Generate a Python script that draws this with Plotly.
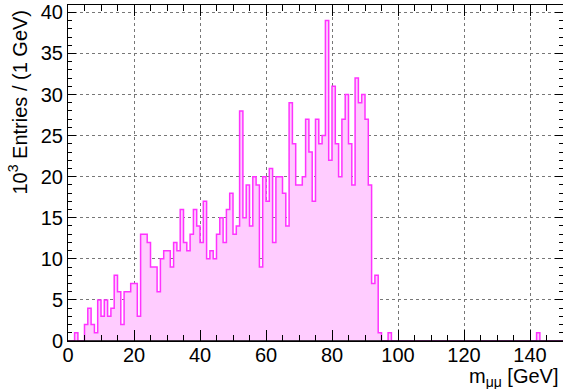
import plotly.graph_objects as go

# Bin low edges (GeV), 1 GeV bins from 0 to 150
bin_low_edges = list(range(0, 150))
hist_upper_edge = 150

# Entries per bin, in units of 10^3
counts = [
    0, 0, 1, 0, 0, 2, 4, 2, 1, 5,        # 0-9
    3, 5, 3, 4, 8, 6, 2, 6, 6, 7,        # 10-19
    7, 3, 13, 13, 12, 9, 9, 6, 10, 11,   # 20-29
    11, 9, 12, 11, 16, 12, 11, 13, 16, 14,  # 30-39
    12, 17, 10, 11, 10, 13, 15, 12, 16, 18,  # 40-49
    13, 14, 28, 15, 19, 14, 20, 19, 9, 20,   # 50-59
    17, 21, 12, 20, 20, 18, 14, 29, 24, 19,  # 60-69
    19, 20, 27, 23, 17, 27, 24, 25, 39, 22,  # 70-79
    31, 24, 20, 27, 30, 24, 19, 32, 29, 30,  # 80-89
    27, 19, 7, 8, 1, 0, 0, 1, 0, 0,          # 90-99
    0, 0, 0, 0, 0, 0, 0, 0, 0, 0,            # 100-109
    0, 0, 0, 0, 0, 0, 0, 0, 0, 0,            # 110-119
    0, 0, 0, 0, 0, 0, 0, 0, 0, 0,            # 120-129
    0, 0, 0, 0, 0, 0, 0, 0, 0, 0,            # 130-139
    0, 0, 1, 0, 0, 0, 0, 0, 0, 0,            # 140-149
]

x_tick_vals = [0, 20, 40, 60, 80, 100, 120, 140]
y_tick_vals = [0, 5, 10, 15, 20, 25, 30, 35, 40]

x_title = "m<sub>μμ</sub> [GeV]"
y_title = "10<sup>3</sup> Entries / (1 GeV)"

FONT = "Liberation Sans, Arial, Helvetica, sans-serif"
FS = 20

xs = bin_low_edges + [hist_upper_edge]
ys = counts + [counts[-1]]

fig = go.Figure()
fig.add_trace(go.Scatter(
    x=xs, y=ys,
    mode="lines",
    line=dict(shape="hv", color="#ff33ff", width=1.5),
    fill="tozeroy",
    fillcolor="#ffccff",
    hoverinfo="skip",
    showlegend=False,
))

fig.update_layout(
    width=563, height=389,
    margin=dict(l=68, r=0, t=5, b=48, autoexpand=False),
    paper_bgcolor="white",
    plot_bgcolor="white",
    font=dict(family=FONT, size=FS, color="black"),
    showlegend=False,
)

fig.update_xaxes(
    range=[0, 150],
    tickvals=x_tick_vals,
    ticks="inside", ticklen=11, tickwidth=1, tickcolor="black",
    minor=dict(ticks="inside", ticklen=6, dtick=5, tickcolor="black", showgrid=False),
    showline=True, linecolor="black", linewidth=1, mirror="ticks",
    showgrid=True, gridcolor="#777777", griddash="dot", gridwidth=1,
    zeroline=False,
    ticklabelstandoff=-4,
    tickfont=dict(family=FONT, size=FS, color="black"),
)
fig.update_yaxes(
    range=[0, 40.9],
    tickvals=y_tick_vals,
    ticks="inside", ticklen=8, tickwidth=1, tickcolor="black",
    minor=dict(ticks="inside", ticklen=4, dtick=1, tickcolor="black", showgrid=False),
    showline=True, linecolor="black", linewidth=1, mirror="ticks",
    showgrid=True, gridcolor="#777777", griddash="dot", gridwidth=1,
    zeroline=False,
    tickfont=dict(family=FONT, size=FS, color="black"),
)

# Black baseline on top so the histogram's zero-level outline stays hidden (as in ROOT)
fig.add_shape(
    type="line", xref="paper", x0=0, x1=1, yref="y", y0=0, y1=0,
    line=dict(color="black", width=1.5), layer="above",
)

fig.add_annotation(
    text=x_title, xref="paper", yref="paper",
    x=(561 - 68) / 495, y=(340.5 - 377) / 335.5,
    xanchor="right", yanchor="middle", showarrow=False,
    font=dict(family=FONT, size=FS, color="black"),
)
fig.add_annotation(
    text=y_title, xref="paper", yref="paper",
    x=(18 - 68) / 495, y=(340.5 - 8) / 335.5,
    xanchor="center", yanchor="top", textangle=-90, showarrow=False,
    font=dict(family=FONT, size=FS, color="black"),
)

fig.write_html(
    "out.html",
    config={"displayModeBar": False},
    post_script="document.body.style.margin='0px';document.body.style.padding='0px';",
)
